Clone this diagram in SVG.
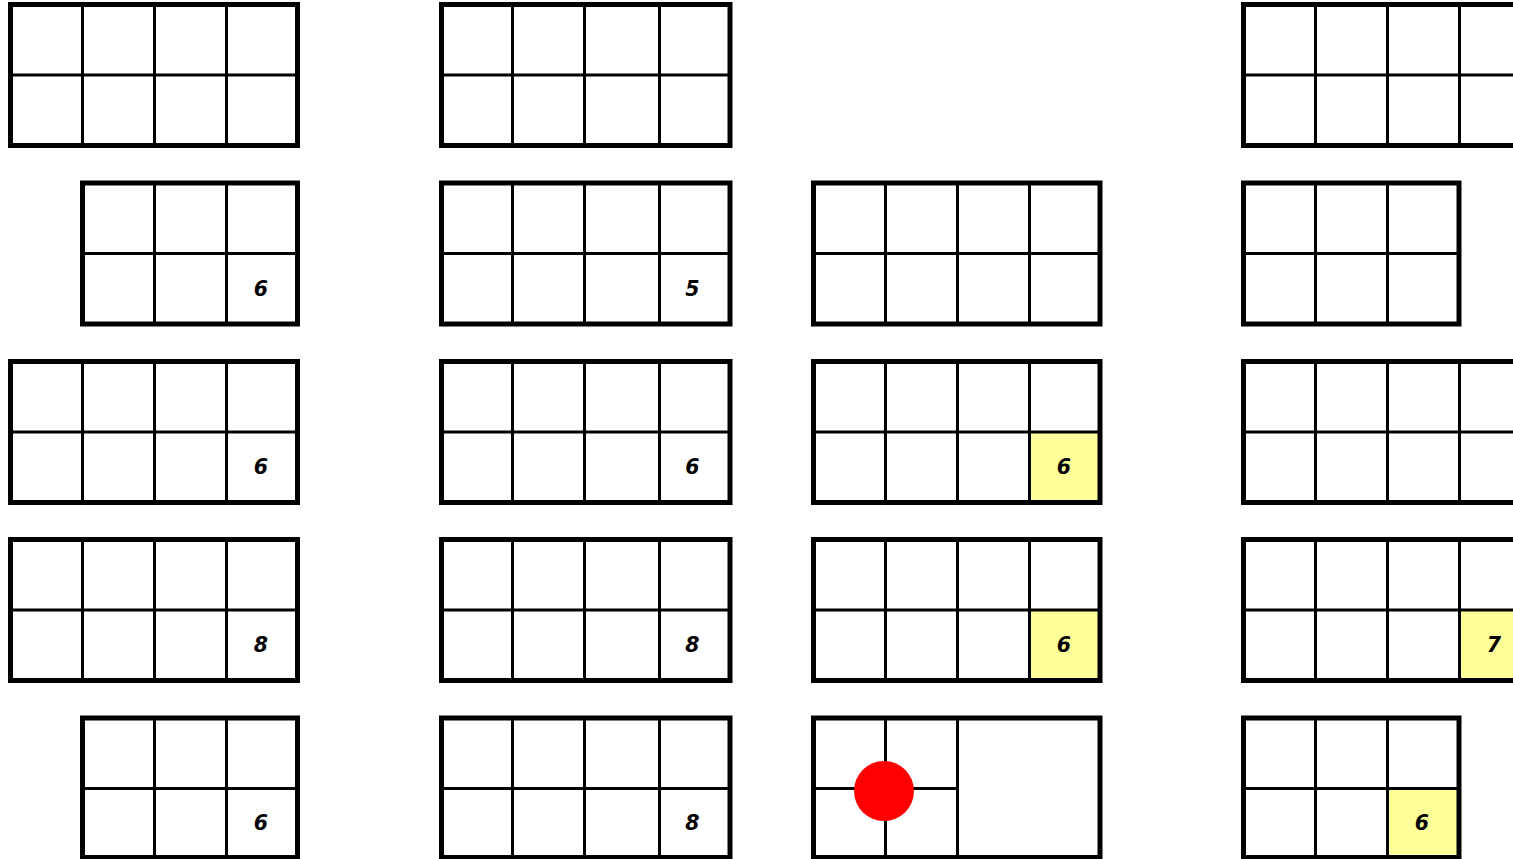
<svg xmlns="http://www.w3.org/2000/svg" width="1513" height="859" viewBox="0 0 1513 859">
<style>
.outer{fill:none;stroke:#000;stroke-width:5}
.inner{fill:none;stroke:#000;stroke-width:3}
.hl{fill:#ffff99}
.lbl{font-family:"DejaVu Sans",sans-serif;font-weight:bold;font-style:italic;font-size:20.5px;text-anchor:middle;fill:#000}
</style>
<rect width="1513" height="859" fill="#fff"/>
<!-- Row 1 -->
<g id="r1g1"><path class="inner" d="M82.5 4.5V145.5M154.5 4.5V145.5M226.5 4.5V145.5M10.5 75H297.5"/><rect class="outer" x="10.5" y="4.5" width="287" height="141"/></g>
<g id="r1g2"><path class="inner" d="M512.5 4.5V145.5M584.5 4.5V145.5M659.5 4.5V145.5M441.5 75H730"/><rect class="outer" x="441.5" y="4.5" width="288.5" height="141"/></g>
<g id="r1g4"><path class="inner" d="M1315.5 4.5V145.5M1387.5 4.5V145.5M1459.5 4.5V145.5M1243.5 75H1531.5"/><rect class="outer" x="1243.5" y="4.5" width="288" height="141"/></g>
<!-- Row 2 -->
<g id="r2g1"><path class="inner" d="M154.5 183V324M226.5 183V324M82.5 253.5H297.5"/><rect class="outer" x="82.5" y="183" width="215" height="141"/><text class="lbl" x="261" y="295.5">6</text></g>
<g id="r2g2"><path class="inner" d="M512.5 183V324M584.5 183V324M659.5 183V324M441.5 253.5H730"/><rect class="outer" x="441.5" y="183" width="288.5" height="141"/><text class="lbl" x="692.5" y="295.5">5</text></g>
<g id="r2g3"><path class="inner" d="M885.5 183V324M957.5 183V324M1029.5 183V324M813.5 253.5H1100"/><rect class="outer" x="813.5" y="183" width="286.5" height="141"/></g>
<g id="r2g4"><path class="inner" d="M1315.5 183V324M1387.5 183V324M1243.5 253.5H1459"/><rect class="outer" x="1243.5" y="183" width="215.5" height="141"/></g>
<!-- Row 3 -->
<g id="r3g1"><path class="inner" d="M82.5 361.5V502.5M154.5 361.5V502.5M226.5 361.5V502.5M10.5 432H297.5"/><rect class="outer" x="10.5" y="361.5" width="287" height="141"/><text class="lbl" x="261" y="473.5">6</text></g>
<g id="r3g2"><path class="inner" d="M512.5 361.5V502.5M584.5 361.5V502.5M659.5 361.5V502.5M441.5 432H730"/><rect class="outer" x="441.5" y="361.5" width="288.5" height="141"/><text class="lbl" x="692.5" y="473.5">6</text></g>
<g id="r3g3"><rect class="hl" x="1029.5" y="432" width="70.5" height="70.5"/><path class="inner" d="M885.5 361.5V502.5M957.5 361.5V502.5M1029.5 361.5V502.5M813.5 432H1100"/><rect class="outer" x="813.5" y="361.5" width="286.5" height="141"/><text class="lbl" x="1064" y="473.5">6</text></g>
<g id="r3g4"><path class="inner" d="M1315.5 361.5V502.5M1387.5 361.5V502.5M1459.5 361.5V502.5M1243.5 432H1531.5"/><rect class="outer" x="1243.5" y="361.5" width="288" height="141"/></g>
<!-- Row 4 -->
<g id="r4g1"><path class="inner" d="M82.5 539.5V680.5M154.5 539.5V680.5M226.5 539.5V680.5M10.5 610H297.5"/><rect class="outer" x="10.5" y="539.5" width="287" height="141"/><text class="lbl" x="261" y="651.5">8</text></g>
<g id="r4g2"><path class="inner" d="M512.5 539.5V680.5M584.5 539.5V680.5M659.5 539.5V680.5M441.5 610H730"/><rect class="outer" x="441.5" y="539.5" width="288.5" height="141"/><text class="lbl" x="692.5" y="651.5">8</text></g>
<g id="r4g3"><rect class="hl" x="1029.5" y="610" width="70.5" height="70.5"/><path class="inner" d="M885.5 539.5V680.5M957.5 539.5V680.5M1029.5 539.5V680.5M813.5 610H1100"/><rect class="outer" x="813.5" y="539.5" width="286.5" height="141"/><text class="lbl" x="1064" y="651.5">6</text></g>
<g id="r4g4"><rect class="hl" x="1459.5" y="610" width="72" height="70.5"/><path class="inner" d="M1315.5 539.5V680.5M1387.5 539.5V680.5M1459.5 539.5V680.5M1243.5 610H1531.5"/><rect class="outer" x="1243.5" y="539.5" width="288" height="141"/><text class="lbl" x="1494" y="651.5">7</text></g>
<!-- Row 5 -->
<g id="r5g1"><path class="inner" d="M154.5 718V857.5M226.5 718V857.5M82.5 788.5H297.5"/><rect class="outer" x="82.5" y="718" width="215" height="139.5"/><text class="lbl" x="261" y="829.5">6</text></g>
<g id="r5g2"><path class="inner" d="M512.5 718V857.5M584.5 718V857.5M659.5 718V857.5M441.5 788.5H730"/><rect class="outer" x="441.5" y="718" width="288.5" height="139.5"/><text class="lbl" x="692.5" y="829.5">8</text></g>
<g id="r5g3"><path class="inner" d="M885.5 718V857.5M957.5 718V857.5M813.5 788.5H957.5"/><rect class="outer" x="813.5" y="718" width="286.5" height="139.5"/><circle cx="884" cy="791" r="30" fill="#ff0000"/></g>
<g id="r5g4"><rect class="hl" x="1387.5" y="788.5" width="71.5" height="69"/><path class="inner" d="M1315.5 718V857.5M1387.5 718V857.5M1243.5 788.5H1459"/><rect class="outer" x="1243.5" y="718" width="215.5" height="139.5"/><text class="lbl" x="1422" y="829.5">6</text></g>
</svg>
